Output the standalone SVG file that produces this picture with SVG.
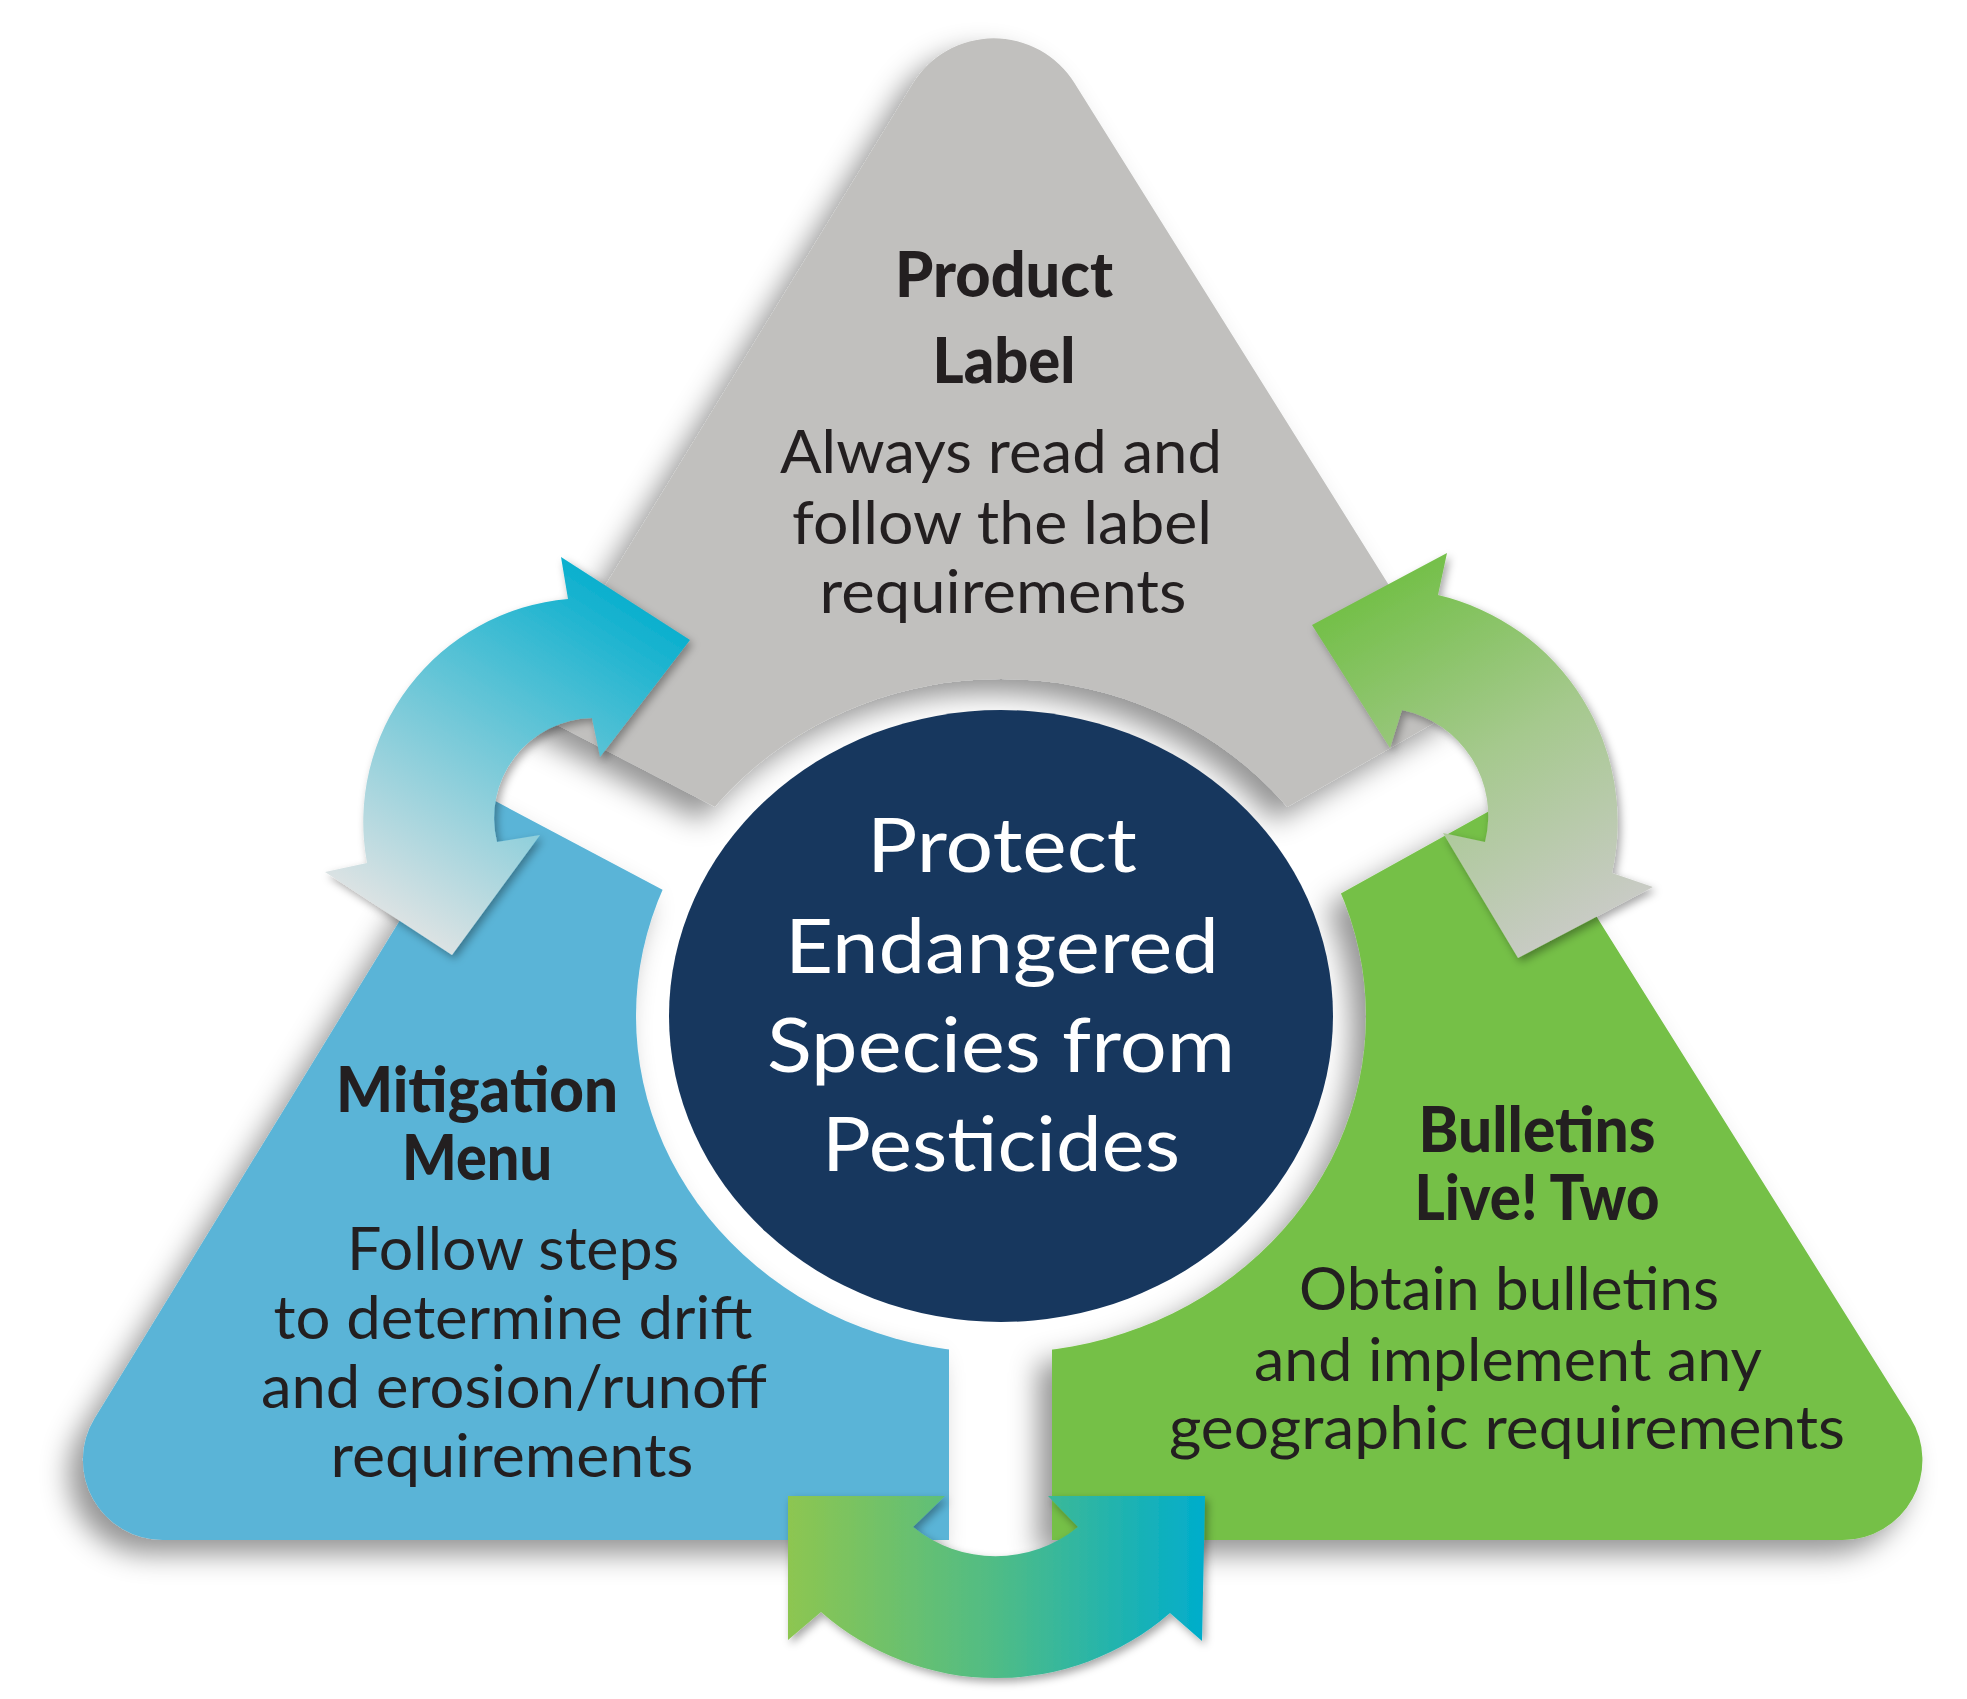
<svg xmlns="http://www.w3.org/2000/svg" width="1967" height="1699" viewBox="0 0 1967 1699">
<defs>
<style>
.body{font-family:Lato,"Open Sans","Liberation Sans",sans-serif;font-size:60px;fill:#231F20;text-anchor:middle}
.head{font-family:Lato,"Open Sans","Liberation Sans",sans-serif;font-size:62px;font-weight:900;fill:#231F20;text-anchor:middle}
.center{font-family:Lato,"Open Sans","Liberation Sans",sans-serif;font-size:76px;fill:#FFFFFF;text-anchor:middle}
.panel{clip-path:url(#tri);mask:url(#ringCut)}
</style>
<clipPath id="tri">
<path d="M162.9 1540 L1842.4 1540 A80 80 0 0 0 1910.2 1417.5 L1074.3 82.8 A95 95 0 0 0 912.9 83.6 L94.7 1418.2 A80 80 0 0 0 162.9 1540 Z"/>
</clipPath>
<mask id="ringCut" maskUnits="userSpaceOnUse" x="0" y="0" width="1967" height="1699">
<rect x="0" y="0" width="1967" height="1699" fill="#fff"/>
<ellipse cx="1001" cy="1016" rx="365" ry="337" fill="#000"/>
</mask>
<filter id="panelShadow" x="-20%" y="-20%" width="140%" height="140%">
<feDropShadow dx="-14" dy="14" stdDeviation="14" flood-color="#000" flood-opacity="0.42"/>
</filter>
<filter id="arrowShadow" x="-20%" y="-20%" width="140%" height="140%">
<feDropShadow dx="3" dy="4" stdDeviation="4" flood-color="#000" flood-opacity="0.35"/>
</filter>
<linearGradient id="gLeft" gradientUnits="userSpaceOnUse" x1="650" y1="590" x2="420" y2="950">
<stop offset="0" stop-color="#00ADCD"/>
<stop offset="0.5" stop-color="#72C8D8"/>
<stop offset="1" stop-color="#E2E4E4"/>
</linearGradient>
<linearGradient id="gRight" gradientUnits="userSpaceOnUse" x1="1350" y1="590" x2="1560" y2="950">
<stop offset="0" stop-color="#71BF45"/>
<stop offset="0.5" stop-color="#A5C98D"/>
<stop offset="1" stop-color="#CACBC7"/>
</linearGradient>
<linearGradient id="gBottom" gradientUnits="userSpaceOnUse" x1="788" y1="0" x2="1205" y2="0">
<stop offset="0" stop-color="#8DC650"/>
<stop offset="0.5" stop-color="#4FBC86"/>
<stop offset="1" stop-color="#00ADCC"/>
</linearGradient>
</defs>
<rect x="0" y="0" width="1967" height="1699" fill="#FFFFFF"/>

<g id="node-product-label">
<g filter="url(#panelShadow)">
<path class="panel" fill="#C1C0BE" d="M-50 409 L1015 963 L2017 389 L2017 -100 L-50 -100 Z"/>
</g>
<text class="head" x="1004" y="297" textLength="218" lengthAdjust="spacingAndGlyphs">Product</text>
<text class="head" x="1004" y="383" textLength="143" lengthAdjust="spacingAndGlyphs">Label</text>
<text class="body" x="1001" y="473" textLength="442" lengthAdjust="spacingAndGlyphs">Always read and</text>
<text class="body" x="1002" y="544" textLength="420" lengthAdjust="spacingAndGlyphs">follow the label</text>
<text class="body" x="1003" y="613" textLength="367" lengthAdjust="spacingAndGlyphs">requirements</text>
</g>

<g id="node-mitigation-menu">
<g filter="url(#panelShadow)">
<path class="panel" fill="#5AB4D7" d="M-50 512 L949 1041.5 L949 1750 L-50 1750 Z"/>
</g>
<text class="head" x="477" y="1112" textLength="282" lengthAdjust="spacingAndGlyphs">Mitigation</text>
<text class="head" x="477" y="1180" textLength="150" lengthAdjust="spacingAndGlyphs">Menu</text>
<text class="body" x="513" y="1270" textLength="332" lengthAdjust="spacingAndGlyphs">Follow steps</text>
<text class="body" x="513" y="1339" textLength="479" lengthAdjust="spacingAndGlyphs">to determine drift</text>
<text class="body" x="514" y="1408" textLength="506" lengthAdjust="spacingAndGlyphs">and erosion/runoff</text>
<text class="body" x="512" y="1477" textLength="363" lengthAdjust="spacingAndGlyphs">requirements</text>
</g>

<g id="node-bulletins">
<g filter="url(#panelShadow)">
<path class="panel" fill="#74C046" d="M1052 1054 L2017 517.7 L2017 1750 L1052 1750 Z"/>
</g>
<text class="head" x="1537" y="1152" textLength="237" lengthAdjust="spacingAndGlyphs">Bulletins</text>
<text class="head" x="1537" y="1220" textLength="245" lengthAdjust="spacingAndGlyphs">Live! Two</text>
<text class="body" x="1509" y="1310" textLength="420" lengthAdjust="spacingAndGlyphs">Obtain bulletins</text>
<text class="body" x="1508" y="1381" textLength="508" lengthAdjust="spacingAndGlyphs">and implement any</text>
<text class="body" x="1507" y="1449" textLength="676" lengthAdjust="spacingAndGlyphs">geographic requirements</text>
</g>

<g id="node-center">
<ellipse cx="1001" cy="1016" rx="332" ry="306" fill="#17375E"/>
<text class="center" x="1002" y="872" textLength="270" lengthAdjust="spacingAndGlyphs">Protect</text>
<text class="center" x="1002" y="973" textLength="434" lengthAdjust="spacingAndGlyphs">Endangered</text>
<text class="center" x="1001" y="1072" textLength="468" lengthAdjust="spacingAndGlyphs">Species from</text>
<text class="center" x="1001" y="1171" textLength="358" lengthAdjust="spacingAndGlyphs">Pesticides</text>
</g>

<g id="connectors" filter="url(#arrowShadow)">
<path id="arrow-left" fill="url(#gLeft)" d="M568 599 L561 557 L690 640 L600 757 L592 718 A100 100 0 0 0 497 842 L540 835 L452 955 L325 872 L367 863 A224 224 0 0 1 568 599 Z"/>
<path id="arrow-right" fill="url(#gRight)" d="M1438 595 L1447 553 L1312 625 L1390 748 L1402 710 A108 108 0 0 1 1485 842 L1443 833 L1518 958 L1653 887 L1612 873 A233 233 0 0 0 1438 595 Z"/>
<path id="arrow-bottom" fill="url(#gBottom)" d="M788 1496 L945 1496 L913 1527 A131 131 0 0 0 1078 1527 L1048 1496 L1205 1496 L1202 1641 L1170 1613 A265 265 0 0 1 821 1612 L788 1640 Z"/>
</g>
</svg>
